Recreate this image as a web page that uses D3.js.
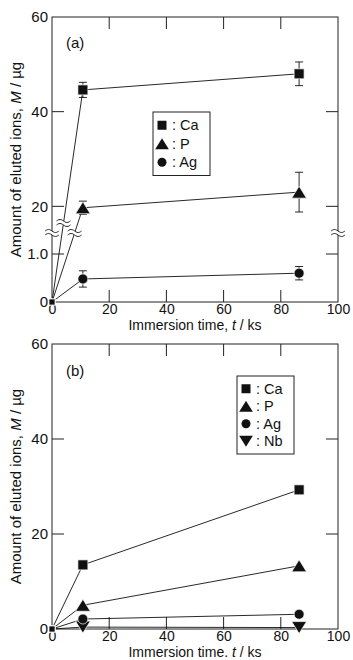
<!DOCTYPE html>
<html>
<head>
<meta charset="utf-8">
<script src="https://cdn.jsdelivr.net/npm/d3@7"></script>
<style>
  html, body { margin: 0; padding: 0; background: #fff; }
  svg { display: block; }
  text { font-family: "Liberation Sans", Arial, sans-serif; fill: #111; }
</style>
</head>
<body>
<svg id="chart" width="353" height="660"></svg>
<script>
// Immersion times (ks)
const times = [0, 10.8, 86.4];

// Panel (a): eluted amounts (µg) with error half-widths
const caA = [0, 44.6, 48.0];
const caAErr = [0, 1.6, 2.5];
const pA = [0, 19.7, 23.0];
const pAErr = [0, 1.4, 4.2];
const agA = [0, 0.48, 0.6];
const agAErr = [0, 0.17, 0.14];

// Panel (b): eluted amounts (µg)
const caB = [0, 13.5, 29.3];
const pB = [0, 5.0, 13.3];
const agB = [0, 2.1, 3.1];
const nbB = [0, 0.4, 0.3];

// Axis ticks
const xTicks = [0, 20, 40, 60, 80, 100];
const yTicksA = [0, 1.0, 20, 40, 60];
const yTickLabelsA = ["0", "1.0", "20", "40", "60"];
const yTicksB = [0, 20, 40, 60];
const yTickLabelsB = ["0", "20", "40", "60"];

const svg = d3.select("#chart");
const L = 52, R = 338;
const TICK = 12;

const x = d3.scaleLinear().domain([0, 100]).range([L, R]);

// Broken y scale for (a): 0–1.5 below the break, 15–60 above it
const panelA = { top: 17, bottom: 302, breakY: 230 };
const yA = d3.scaleLinear()
  .domain([0, 1.5, 15, 60])
  .range([panelA.bottom, panelA.breakY, panelA.breakY, panelA.top]);

const panelB = { top: 344, bottom: 629 };
const yB = d3.scaleLinear().domain([0, 60]).range([panelB.bottom, panelB.top]);

// marker shapes
function markerPath(shape, s) {
  const h = s / 2;
  if (shape === "square") return `M${-h},${-h}H${h}V${h}H${-h}Z`;
  if (shape === "circle") return d3.arc()({innerRadius: 0, outerRadius: h, startAngle: 0, endAngle: 2 * Math.PI});
  const w = s * 0.62, hh = s * 0.5;
  if (shape === "up") return `M0,${-hh}L${w},${hh}L${-w},${hh}Z`;
  if (shape === "down") return `M0,${hh}L${w},${-hh}L${-w},${-hh}Z`;
}
const markerSize = { square: 10, circle: 10, up: 12, down: 12 };

function drawFrame(g, y, top, bottom, yTicks, yLabels, xTitle, innerYTicks) {
  // x tick labels
  const xa = d3.axisBottom(x).tickValues(xTicks).tickSizeInner(0).tickSizeOuter(0).tickPadding(2)
    .tickFormat(d3.format("d"));
  const gx = g.append("g").attr("transform", `translate(0,${bottom})`).call(xa);
  gx.select(".domain").remove();
  gx.selectAll("text").attr("font-size", 14).style("font-family", '"Liberation Sans", Arial, sans-serif').attr("fill", "#111");

  const ya = d3.axisLeft(y).tickValues(yTicks).tickSizeInner(0).tickSizeOuter(0).tickPadding(4)
    .tickFormat((d, i) => yLabels[i]);
  const gy = g.append("g").attr("transform", `translate(${L},0)`).call(ya);
  gy.select(".domain").remove();
  gy.selectAll("text").attr("font-size", 15).style("font-family", '"Liberation Sans", Arial, sans-serif').attr("fill", "#111");

  // inward ticks
  const inner = xTicks.filter(d => d > 0 && d < 100);
  const tk = g.append("g").attr("stroke", "#222").attr("stroke-width", 1);
  inner.forEach(d => {
    tk.append("line").attr("x1", x(d)).attr("x2", x(d)).attr("y1", bottom).attr("y2", bottom - TICK);
    tk.append("line").attr("x1", x(d)).attr("x2", x(d)).attr("y1", top).attr("y2", top + TICK);
  });
  innerYTicks.forEach(d => {
    tk.append("line").attr("x1", L).attr("x2", L + TICK).attr("y1", y(d)).attr("y2", y(d));
    tk.append("line").attr("x1", R).attr("x2", R - TICK).attr("y1", y(d)).attr("y2", y(d));
  });

  // frame
  g.append("rect").attr("x", L).attr("y", top).attr("width", R - L).attr("height", bottom - top)
    .attr("fill", "none").attr("stroke", "#222").attr("stroke-width", 1);

  // titles
  g.append("text").attr("x", (L + R) / 2).attr("y", bottom + 27.8).attr("text-anchor", "middle")
    .attr("font-size", 14)
    .call(t => {
      t.append("tspan").text(xTitle);
      t.append("tspan").attr("font-style", "italic").text("t");
      t.append("tspan").text(" / ks");
    });
  g.append("text").attr("transform", `translate(21,${(top + bottom) / 2}) rotate(-90)`)
    .attr("text-anchor", "middle").attr("font-size", 15)
    .call(t => {
      t.append("tspan").text("Amount of eluted ions, ");
      t.append("tspan").attr("font-style", "italic").text("M");
      t.append("tspan").text(" / \u00b5g");
    });
}

function drawSeries(g, y, vals, errs) {
  const pts = times.map((t, i) => ({ t, v: vals[i], e: errs ? errs[i] : 0 }));
  g.append("path").datum(pts)
    .attr("d", d3.line().x(d => x(d.t)).y(d => y(d.v)))
    .attr("fill", "none").attr("stroke", "#111").attr("stroke-width", 0.9);
  if (errs) {
    const eg = g.append("g").attr("stroke", "#111").attr("stroke-width", 0.9);
    pts.filter(d => d.e > 0).forEach(d => {
      const cx = x(d.t);
      eg.append("line").attr("x1", cx).attr("x2", cx).attr("y1", y(d.v - d.e)).attr("y2", y(d.v + d.e));
      [d.v - d.e, d.v + d.e].forEach(v => {
        eg.append("line").attr("x1", cx - 4).attr("x2", cx + 4).attr("y1", y(v)).attr("y2", y(v));
      });
    });
  }
  return pts;
}

function drawMarkers(g, y, pts, shape) {
  g.selectAll(null).data(pts).join("path")
    .attr("transform", d => `translate(${x(d.t)},${y(d.v)})`)
    .attr("d", d => d.t === 0 ? markerPath("square", 6) : markerPath(shape, markerSize[shape]))
    .attr("fill", "#111").attr("stroke", "#fff").attr("stroke-width", 0.7);
}

function breakMark(g, cx, cy) {
  const w = 14, gap = 4, a = 1.6;
  const wave = (off) => d3.range(0, 13).map(i => {
    const u = i / 12;
    return [cx - w / 2 + u * w, cy + off - a * Math.sin(u * 2 * Math.PI)];
  });
  const top = wave(-gap / 2), bot = wave(gap / 2);
  g.append("path").attr("d", d3.line()(top.concat(bot.slice().reverse())) + "Z")
    .attr("fill", "#fff").attr("stroke", "none");
  [top, bot].forEach(p => g.append("path").attr("d", d3.line().curve(d3.curveBasis)(p))
    .attr("fill", "none").attr("stroke", "#111").attr("stroke-width", 0.9));
}

function legend(g, x0, y0, w, items, rowH) {
  const h = items.length * rowH + 8;
  g.append("rect").attr("x", x0).attr("y", y0).attr("width", w).attr("height", h)
    .attr("fill", "#fff").attr("stroke", "#222").attr("stroke-width", 1);
  items.forEach((it, i) => {
    const cy = y0 + 4 + rowH * (i + 0.5);
    g.append("path").attr("transform", `translate(${x0 + 9},${cy})`)
      .attr("d", markerPath(it.shape, it.shape === "square" ? 9 : it.shape === "circle" ? 9 : 11))
      .attr("fill", "#111");
    g.append("text").attr("x", x0 + 19).attr("y", cy).attr("dy", "0.36em")
      .attr("font-size", 14.5).text(": " + it.label);
  });
}

// ---------- Panel (a) ----------
const gA = svg.append("g");
drawFrame(gA, yA, panelA.top, panelA.bottom, yTicksA, yTickLabelsA, "Immersion time, ", [40, 20, 1.0]);
const caPts = drawSeries(gA, yA, caA, caAErr);
const pPts = drawSeries(gA, yA, pA, pAErr);
const agPts = drawSeries(gA, yA, agA, agAErr);

// break marks on the axes and on the rising segments
function segX(p0, p1, y, cy) {
  const x0 = x(p0.t), y0 = y(p0.v), x1 = x(p1.t), y1 = y(p1.v);
  return x0 + (cy - y0) / (y1 - y0) * (x1 - x0);
}
const by = panelA.breakY + 3;
breakMark(gA, L, by);
breakMark(gA, R, by);
breakMark(gA, segX(caPts[0], caPts[1], yA, by - 10), by - 10);
breakMark(gA, segX(pPts[0], pPts[1], yA, by), by);

drawMarkers(gA, yA, agPts, "circle");
drawMarkers(gA, yA, pPts, "up");
drawMarkers(gA, yA, caPts, "square");

gA.append("text").attr("x", 66).attr("y", 48).attr("font-size", 15).text("(a)");
legend(gA, 153, 112, 57, [
  { shape: "square", label: "Ca" },
  { shape: "up", label: "P" },
  { shape: "circle", label: "Ag" }
], 18.5);

// ---------- Panel (b) ----------
const gB = svg.append("g");
drawFrame(gB, yB, panelB.top, panelB.bottom, yTicksB, yTickLabelsB, "Immersion time. ", [40, 20]);
const nbPtsB = drawSeries(gB, yB, nbB, null);
const agPtsB = drawSeries(gB, yB, agB, null);
const pPtsB = drawSeries(gB, yB, pB, null);
const caPtsB = drawSeries(gB, yB, caB, null);
drawMarkers(gB, yB, nbPtsB, "down");
drawMarkers(gB, yB, agPtsB, "circle");
drawMarkers(gB, yB, pPtsB, "up");
drawMarkers(gB, yB, caPtsB, "square");

gB.append("text").attr("x", 66).attr("y", 376).attr("font-size", 15).text("(b)");
legend(gB, 237, 376, 57, [
  { shape: "square", label: "Ca" },
  { shape: "up", label: "P" },
  { shape: "circle", label: "Ag" },
  { shape: "down", label: "Nb" }
], 17.5);
</script>
</body>
</html>
